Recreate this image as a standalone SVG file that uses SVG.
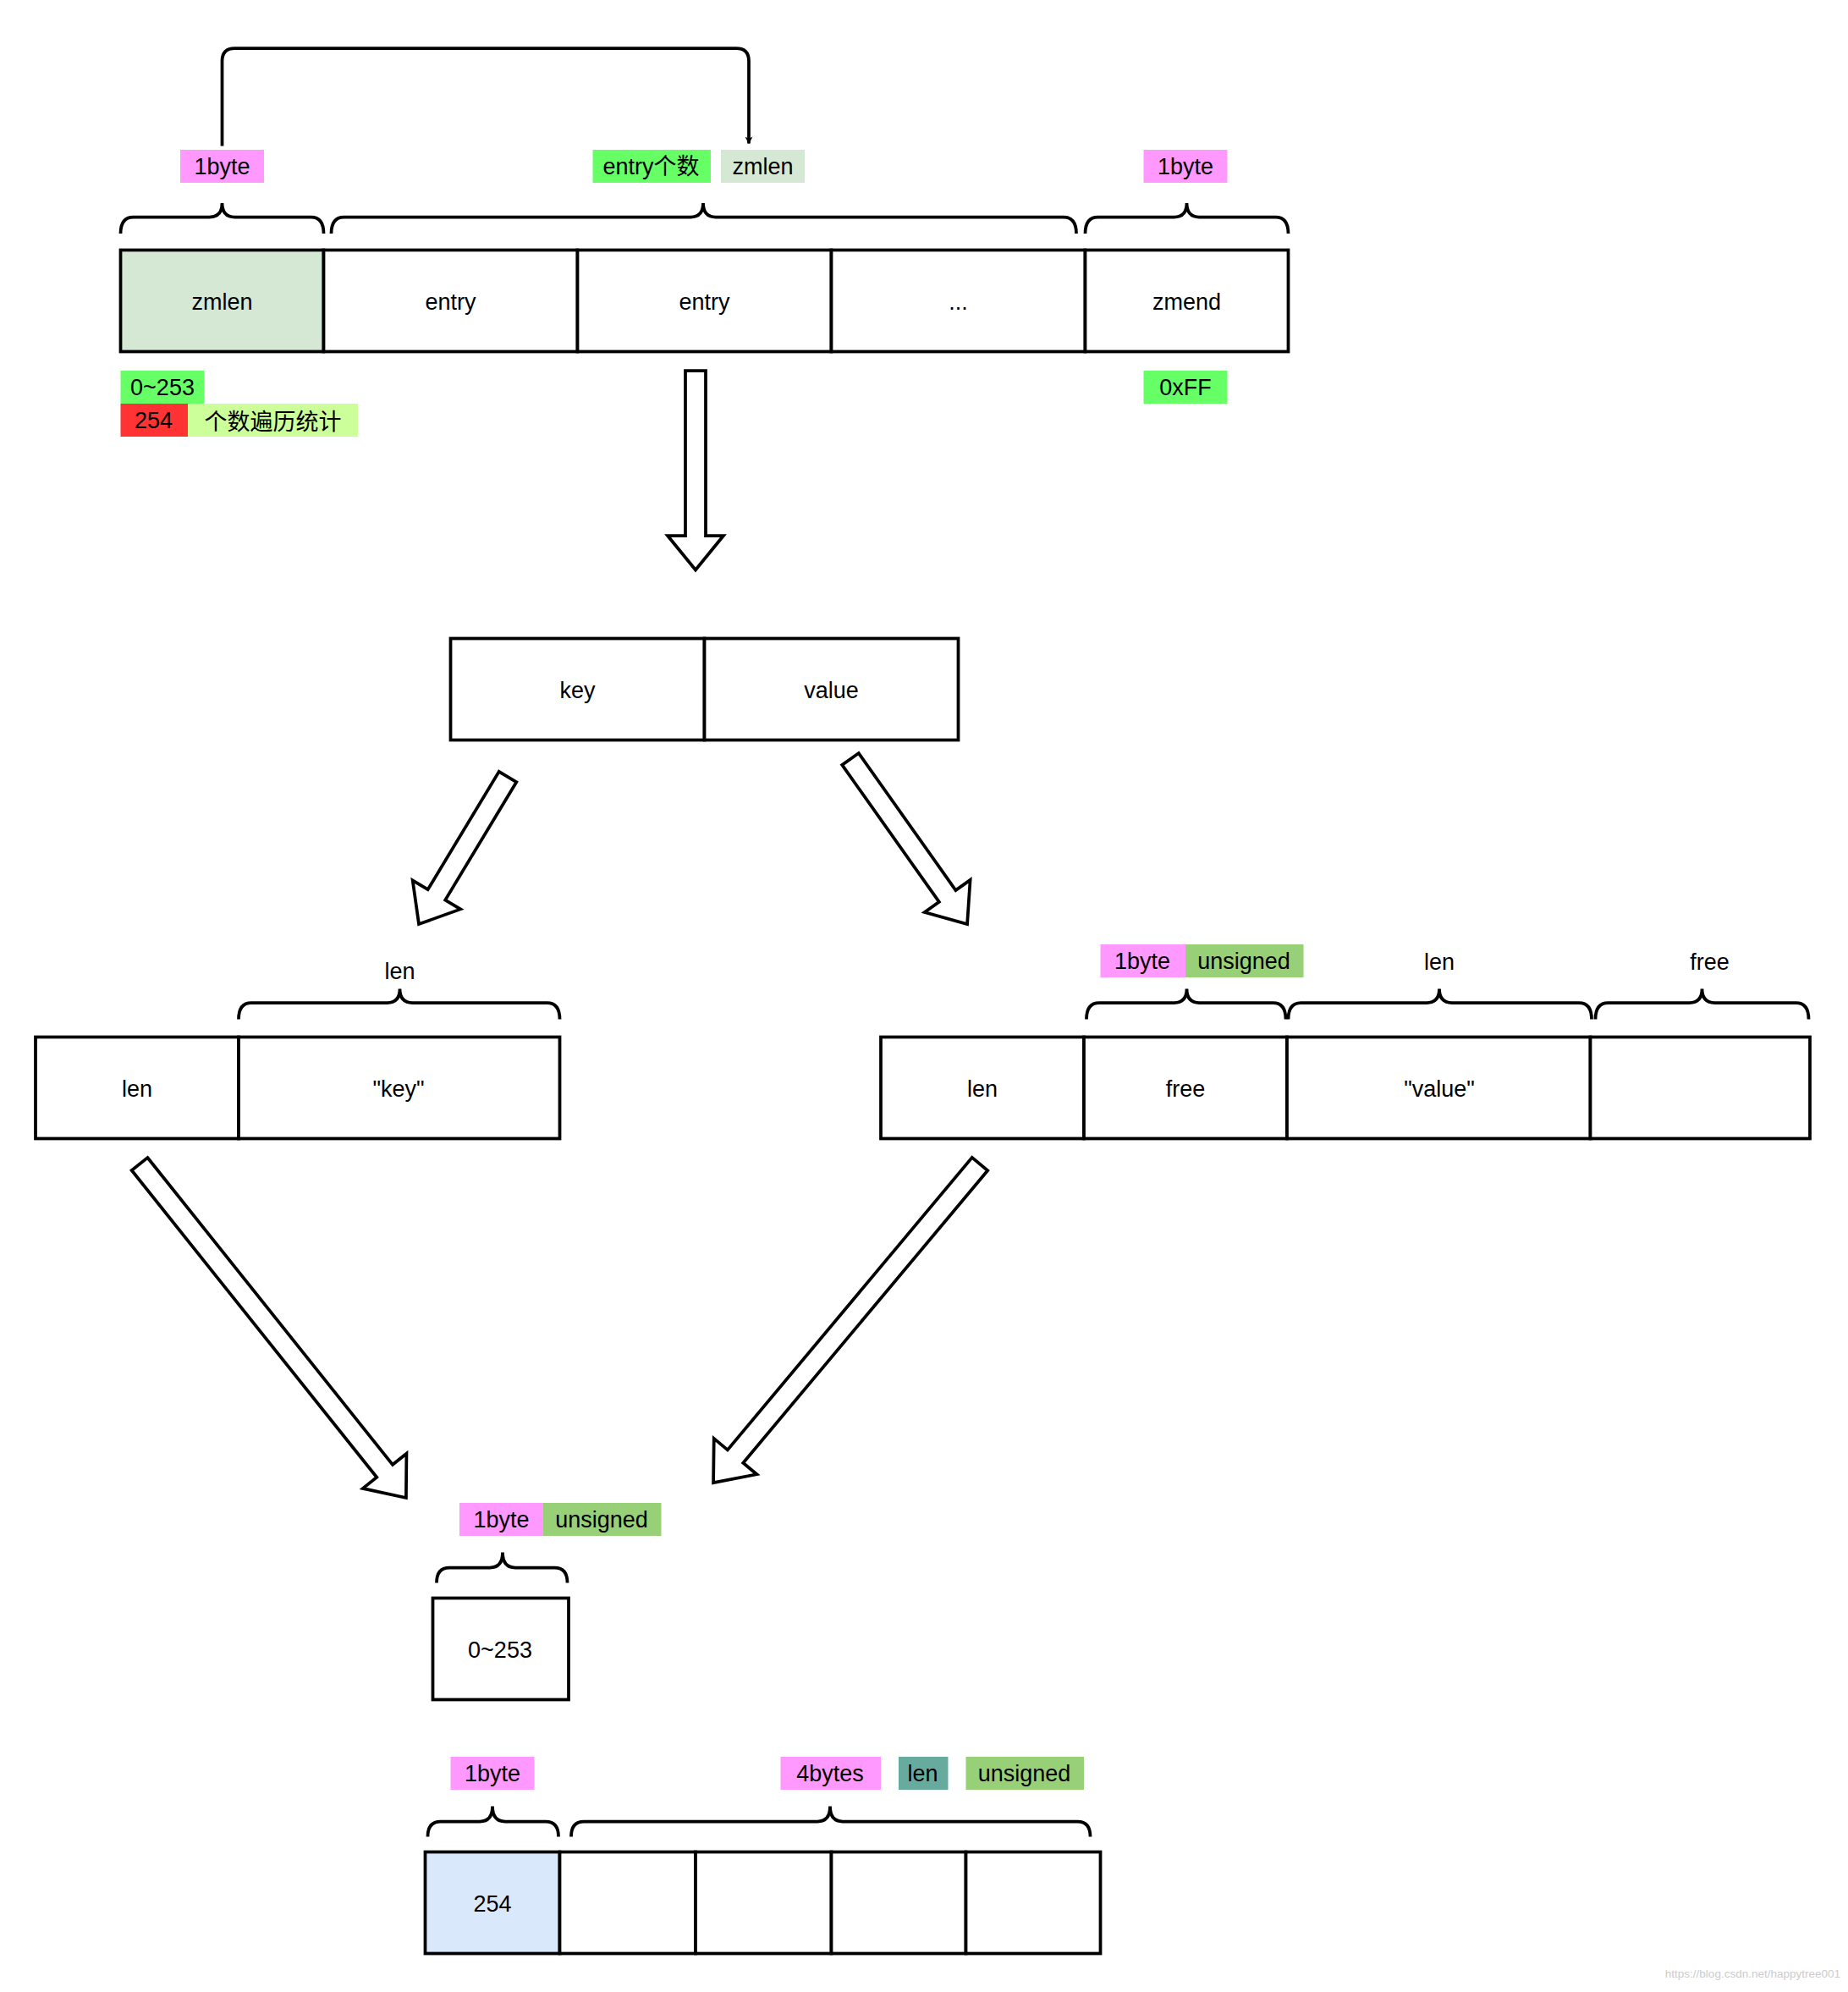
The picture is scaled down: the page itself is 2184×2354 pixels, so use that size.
<svg xmlns="http://www.w3.org/2000/svg" width="2184" height="2354" viewBox="0 0 2184 2354">
<defs>
<style>
text{font-family:"Liberation Sans","Noto Sans CJK SC",sans-serif;font-size:18px;fill:#000;text-anchor:middle;dominant-baseline:central}
.b{stroke:#000;stroke-width:2.5;fill:#fff}
.br{stroke:#000;stroke-width:2.5;fill:none}
.ar{stroke:#000;stroke-width:2.5;fill:#fff;stroke-linejoin:miter}
</style>
<marker id="ah" viewBox="0 0 10 10" refX="9" refY="5" markerWidth="6" markerHeight="6" orient="auto" markerUnits="userSpaceOnUse"><path d="M0,0 L10,5 L0,10 L3,5 Z" fill="#000"/></marker>
</defs>
<rect width="2184" height="2354" fill="#fff"/>
<g transform="scale(1.5)">
<g id="connectors">
<path d="M175,115 L175,48 Q175,38 185,38 L580,38 Q590,38 590,48 L590,113" class="br" marker-end="url(#ah)" style="stroke-width:2.5"/>
<polygon class="ar" transform="translate(548,292) rotate(90)" points="0,-8 130,-8 130,-22 157,0 130,22 130,8 0,8"/>
<polygon class="ar" transform="translate(400,612) rotate(121.1)" points="0,-8 108.5,-8 108.5,-22 135.5,0 108.5,22 108.5,8 0,8"/>
<polygon class="ar" transform="translate(670,598) rotate(54.7)" points="0,-8 132.3,-8 132.3,-22 159.3,0 132.3,22 132.3,8 0,8"/>
<polygon class="ar" transform="translate(110,917) rotate(51.4)" points="0,-8 309.5,-8 309.5,-22 336.5,0 309.5,22 309.5,8 0,8"/>
<polygon class="ar" transform="translate(772,917) rotate(129.9)" points="0,-8 300.3,-8 300.3,-22 327.3,0 300.3,22 300.3,8 0,8"/>
</g>
<g id="braces" class="br">
<path d="M95,184 Q95,171 105,171 L165,171 Q175,171 175,160 Q175,171 185,171 L245,171 Q255,171 255,184"/>
<path d="M261,184 Q261,171 271,171 L544,171 Q554,171 554,160 Q554,171 564,171 L838,171 Q848,171 848,184"/>
<path d="M855,184 Q855,171 865,171 L925,171 Q935,171 935,160 Q935,171 945,171 L1005,171 Q1015,171 1015,184"/>
<path d="M188,803 Q188,790 198,790 L305,790 Q315,790 315,779 Q315,790 325,790 L431,790 Q441,790 441,803"/>
<path d="M856,803 Q856,790 866,790 L925,790 Q935,790 935,779 Q935,790 945,790 L1003,790 Q1013,790 1013,803"/>
<path d="M1015,803 Q1015,790 1025,790 L1124,790 Q1134,790 1134,779 Q1134,790 1144,790 L1244,790 Q1254,790 1254,803"/>
<path d="M1257,803 Q1257,790 1267,790 L1331,790 Q1341,790 1341,779 Q1341,790 1351,790 L1415,790 Q1425,790 1425,803"/>
<path d="M344,1247 Q344,1235 354,1235 L386,1235 Q396,1235 396,1223 Q396,1235 406,1235 L437,1235 Q447,1235 447,1247"/>
<path d="M337,1447 Q337,1435 347,1435 L378,1435 Q388,1435 388,1423 Q388,1435 398,1435 L430,1435 Q440,1435 440,1447"/>
<path d="M450,1447 Q450,1435 460,1435 L644,1435 Q654,1435 654,1423 Q654,1435 664,1435 L849,1435 Q859,1435 859,1447"/>
</g>
<g id="labels">
<rect x="142" y="118" width="66" height="26" fill="#ff99ff"/><text x="175" y="131">1byte</text>
<rect x="467" y="118" width="93" height="26" fill="#66ff66"/><text x="513" y="131">entry个数</text>
<rect x="568" y="118" width="66" height="26" fill="#d5e8d4"/><text x="601" y="131">zmlen</text>
<rect x="901" y="118" width="66" height="26" fill="#ff99ff"/><text x="934" y="131">1byte</text>
<rect x="95" y="292" width="66" height="26" fill="#66ff66"/><text x="128" y="305">0~253</text>
<rect x="95" y="318" width="53" height="26" fill="#ff3333"/><text x="121" y="331">254</text>
<rect x="148" y="318" width="134" height="26" fill="#ccff99"/><text x="215" y="331" style="font-family:'Noto Sans CJK SC',serif">个数遍历统计</text>
<rect x="901" y="292" width="66" height="26" fill="#66ff66"/><text x="934" y="305">0xFF</text>
<text x="315" y="765">len</text>
<rect x="867" y="744" width="67" height="26" fill="#ff99ff"/><text x="900" y="757">1byte</text>
<rect x="934" y="744" width="93" height="26" fill="#97d077"/><text x="980" y="757">unsigned</text>
<text x="1134" y="758">len</text>
<text x="1347" y="758">free</text>
<rect x="362" y="1184" width="66" height="26" fill="#ff99ff"/><text x="395" y="1197">1byte</text>
<rect x="428" y="1184" width="93" height="26" fill="#97d077"/><text x="474" y="1197">unsigned</text>
<rect x="355" y="1384" width="66" height="26" fill="#ff99ff"/><text x="388" y="1397">1byte</text>
<rect x="615" y="1384" width="79" height="26" fill="#ff99ff"/><text x="654" y="1397">4bytes</text>
<rect x="708" y="1384" width="39" height="26" fill="#67ab9f"/><text x="727" y="1397">len</text>
<rect x="761" y="1384" width="93" height="26" fill="#97d077"/><text x="807" y="1397">unsigned</text>
<text x="1450" y="1555" style="font-size:9px;fill:#ccc;text-anchor:end">https://blog.csdn.net/happytree001</text>
</g>
<g id="row1">
<rect x="95" y="197" width="160" height="80" class="b" style="fill:#d5e8d4"/><text x="175" y="238">zmlen</text>
<rect x="255" y="197" width="200" height="80" class="b"/><text x="355" y="238">entry</text>
<rect x="455" y="197" width="200" height="80" class="b"/><text x="555" y="238">entry</text>
<rect x="655" y="197" width="200" height="80" class="b"/><text x="755" y="238">...</text>
<rect x="855" y="197" width="160" height="80" class="b"/><text x="935" y="238">zmend</text>
</g>
<g id="kv">
<rect x="355" y="503" width="200" height="80" class="b"/><text x="455" y="544">key</text>
<rect x="555" y="503" width="200" height="80" class="b"/><text x="655" y="544">value</text>
</g>
<g id="keyrow">
<rect x="28" y="817" width="160" height="80" class="b"/><text x="108" y="858">len</text>
<rect x="188" y="817" width="253" height="80" class="b"/><text x="314" y="858">"key"</text>
</g>
<g id="valrow">
<rect x="694" y="817" width="160" height="80" class="b"/><text x="774" y="858">len</text>
<rect x="854" y="817" width="160" height="80" class="b"/><text x="934" y="858">free</text>
<rect x="1014" y="817" width="239" height="80" class="b"/><text x="1134" y="858">"value"</text>
<rect x="1253" y="817" width="173" height="80" class="b"/>
</g>
<g id="small">
<rect x="341" y="1259" width="107" height="80" class="b"/><text x="394" y="1300">0~253</text>
</g>
<g id="row254">
<rect x="335" y="1459" width="106" height="80" class="b" style="fill:#dae8fc"/><text x="388" y="1500">254</text>
<rect x="441" y="1459" width="107" height="80" class="b"/>
<rect x="548" y="1459" width="107" height="80" class="b"/>
<rect x="655" y="1459" width="106" height="80" class="b"/>
<rect x="761" y="1459" width="106" height="80" class="b"/>
</g>
</g>
</svg>
